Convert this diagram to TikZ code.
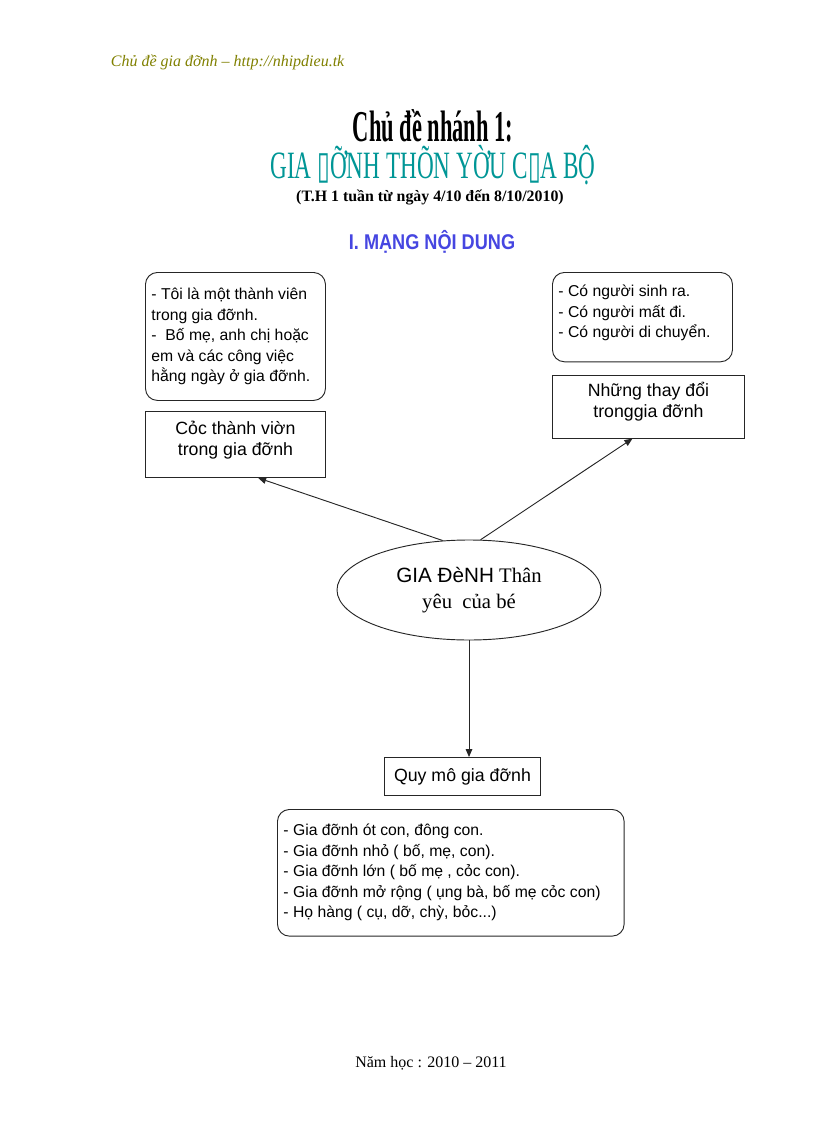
\documentclass[tikz,border=0pt]{standalone}
\usepackage{fontspec}
\setmainfont{Liberation Serif}
\newfontfamily\boxfont{Liberation Sans}
\newfontfamily\headfont[FakeStretch=0.51]{Liberation Serif}
\newfontfamily\tealfont[FakeStretch=0.6]{Liberation Serif}
\newfontfamily\secfont[FakeStretch=0.85]{Liberation Sans}
\newfontfamily\symfont[FakeStretch=0.6]{DejaVu Serif}
\usepackage{xcolor}
\definecolor{headolive}{RGB}{128,128,0}
\definecolor{titleteal}{RGB}{0,150,150}
\definecolor{secblue}{RGB}{70,70,225}
\usetikzlibrary{shapes.geometric, arrows.meta, positioning}

\begin{document}
\begin{tikzpicture}[
    x=0.75pt, y=-0.75pt, line width=0.7pt,
    note/.style={draw=black!85, rounded corners=9pt, anchor=north west, inner xsep=4.5pt, inner ysep=0pt, font=\boxfont\fontsize{11.8}{15.4}\selectfont},
    topic/.style={draw=black!85, rectangle, anchor=north west, inner sep=0pt, font=\boxfont\fontsize{13.3}{15.8}\selectfont},
    arrow/.style={-{Triangle[length=6pt, width=5pt]}, black!85}
]
\useasboundingbox (0,0) rectangle (816,1123);

% page head
\node[anchor=west, text=headolive, font=\itshape\fontsize{12}{14}\selectfont] (head) at (106,62) {Chủ đề gia đỡnh -- http://nhipdieu.tk};
\node[font=\headfont\bfseries\fontsize{33}{36}\selectfont] (title) at (433,126) {Chủ đề nhánh 1:};
\node[text=titleteal, font=\tealfont\fontsize{29}{32}\selectfont] (subject) at (433,165) {GIA {\symfont\char"25AF}ỠNH THÕN YỜU C{\symfont\char"25AF}A BỘ};
\node[font=\bfseries\fontsize{11.9}{14}\selectfont] (period) at (430,197) {(T.H 1 tuần từ ngày 4/10 đến 8/10/2010)};
\node[text=secblue, font=\secfont\bfseries\fontsize{16}{18}\selectfont] (section) at (432,242) {I. MẠNG NỘI DUNG};

% centre
\node[draw=black!85, ellipse, minimum width=198pt, minimum height=75pt, inner sep=0pt, align=center, font=\fontsize{15.5}{19}\selectfont] (family) at (469,590) {{\boxfont GIA ĐèNH} Thân\\yêu\ \ của bé};

% branches
\node[note, minimum width=135pt, minimum height=96pt] (membersnote) at (145,272) {\makebox[126pt][l]{\begin{tabular}{@{}l@{}}- Tôi là một thành viên\\trong gia đỡnh.\\-\ \ Bố mẹ, anh chị hoặc\\em và các công việc\\hằng ngày ở gia đỡnh.\end{tabular}}};
\node[topic, minimum width=135pt, minimum height=49.5pt] (members) at (145,411) {\begin{tabular}{@{}c@{}}Cỏc thành viờn\\trong gia đỡnh\\[6pt]\end{tabular}};

\node[note, minimum width=135pt, minimum height=67pt] (changesnote) at (552,272) {\makebox[126pt][l]{\begin{tabular}{@{}l@{}}- Có người sinh ra.\\- Có người mất đi.\\- Có người di chuyển.\\[6pt]\end{tabular}}};
\node[topic, minimum width=144pt, minimum height=47pt] (changes) at (552,375) {\begin{tabular}{@{}c@{}}Những thay đổi\\tronggia đỡnh\\[6pt]\end{tabular}};

\node[topic, minimum width=117pt, minimum height=28.5pt] (scale) at (384,757) {Quy mô gia đỡnh};
\node[note, minimum width=260pt, minimum height=95pt] (scalenote) at (277,809) {\makebox[251pt][l]{\begin{tabular}{@{}l@{}}- Gia đỡnh ót con, đông con.\\- Gia đỡnh nhỏ ( bố, mẹ, con).\\- Gia đỡnh lớn ( bố mẹ , cỏc con).\\- Gia đỡnh mở rộng ( ụng bà, bố mẹ cỏc con)\\- Họ hàng ( cụ, dỡ, chỳ, bỏc...)\end{tabular}}};

\draw[arrow] (family.118) -- ([xshift=17pt]members.south);
\draw[arrow] (family.77) -- ([xshift=-12pt]changes.south);
\draw[arrow] (family.south) -- (family.south |- scale.north);

% page foot
\node[font=\fontsize{12}{14}\selectfont] (year) at (431,1063) {Năm học : 2010 -- 2011};
\end{tikzpicture}
\end{document}
